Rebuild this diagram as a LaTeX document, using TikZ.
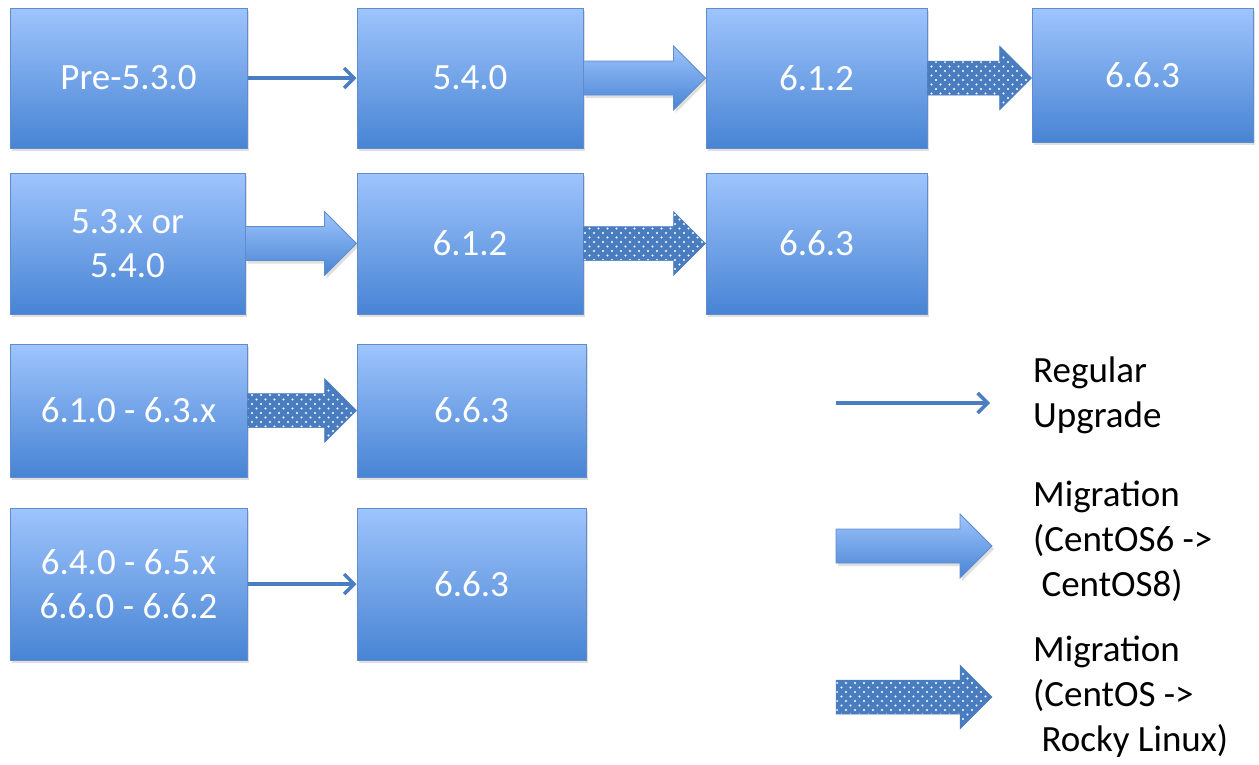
\documentclass[tikz,border=0pt]{standalone}
\usepackage{fontspec}
\setmainfont{Carlito}
\usetikzlibrary{arrows.meta,patterns.meta,shadows,calc}
\definecolor{boxtop}{RGB}{158,196,252}
\definecolor{boxbot}{RGB}{72,132,212}
\definecolor{boxline}{RGB}{96,140,206}
\definecolor{linec}{RGB}{74,126,193}
\definecolor{dotfill}{RGB}{74,124,192}
\newcommand\fatarr[3]{%
  \path[#1] let \p1=(#2), \p2=(#3) in
    (\x1,\y1+17pt) -- (\x2-32pt,\y1+17pt) -- (\x2-32pt,\y1+32pt) -- (\x2,\y1)
    -- (\x2-32pt,\y1-32pt) -- (\x2-32pt,\y1-17pt) -- (\x1,\y1-17pt) -- cycle;}
\begin{document}
\begin{tikzpicture}[x=1pt,y=-1pt,
  box/.style={draw=boxline, line width=1pt, top color=boxtop, bottom color=boxbot,
    text=white, font=\fontsize{37}{44}\selectfont, align=center, inner sep=0pt,
    drop shadow={shadow xshift=2pt,shadow yshift=-3pt,opacity=0.25}},
  thinarr/.style={draw=linec, line width=3.4pt, -{Straight Barb[length=10pt,width=20pt]}},
  fatplain/.style={draw=boxline, line width=0.8pt, top color=boxtop, bottom color=boxbot,
    drop shadow={shadow xshift=2pt,shadow yshift=-3pt,opacity=0.25}},
  fatdot/.style={draw=dotfill, line width=0.5pt,
    preaction={fill=dotfill},
    preaction={pattern={Dots[distance=9pt,radius=1.2pt]}, pattern color=white},
    pattern={Dots[distance=9pt,radius=1.2pt,xshift=4.5pt,yshift=4.5pt]}, pattern color=white},
  legend/.style={anchor=west, align=left, font=\fontsize{37}{45}\selectfont, inner sep=0pt}
]
\useasboundingbox (0,0) rectangle (1259,764);
% row 1
\node[box, minimum width=237pt, minimum height=140pt] (a1) at (128.5,78) {Pre-5.3.0};
\node[box, minimum width=226pt, minimum height=140pt] (b1) at (470,78) {5.4.0};
\node[box, minimum width=221pt, minimum height=140pt] (c1) at (816.5,78) {6.1.2};
\node[box, minimum width=221pt, minimum height=134pt] (d1) at (1142.5,75) {6.6.3};
% row 2
\node[box, minimum width=235pt, minimum height=141pt] (a2) at (127.5,243.5) {5.3.x or\\5.4.0};
\node[box, minimum width=226pt, minimum height=141pt] (b2) at (470,243.5) {6.1.2};
\node[box, minimum width=221pt, minimum height=141pt] (c2) at (816.5,243.5) {6.6.3};
% row 3
\node[box, minimum width=237pt, minimum height=133pt] (a3) at (128.5,410.5) {6.1.0 - 6.3.x};
\node[box, minimum width=229pt, minimum height=133pt] (b3) at (471.5,410.5) {6.6.3};
% row 4
\node[box, minimum width=237pt, minimum height=152pt] (a4) at (128.5,584) {6.4.0 - 6.5.x\\6.6.0 - 6.6.2};
\node[box, minimum width=229pt, minimum height=152pt] (b4) at (471.5,584) {6.6.3};
% connectors
\draw[thinarr] (a1.east) -- (b1.west);
\fatarr{fatplain}{b1.east}{c1.west}
\fatarr{fatdot}{c1.east}{c1.east -| d1.west}
\fatarr{fatplain}{a2.east}{b2.west}
\fatarr{fatdot}{b2.east}{c2.west}
\fatarr{fatdot}{a3.east}{b3.west}
\draw[thinarr] (a4.east) -- (b4.west);
% legend
\coordinate (l1a) at (836,403);
\coordinate (l1b) at (990,403);
\coordinate (l2a) at (836,546);
\coordinate (l2b) at (992,546);
\coordinate (l3a) at (836,697);
\coordinate (l3b) at (992,697);
\draw[thinarr] (l1a) -- (l1b);
\fatarr{fatplain}{l2a}{l2b}
\fatarr{fatdot}{l3a}{l3b}
\node[legend] (t1) at (1033,395) {Regular\\Upgrade};
\node[legend] (t2) at (1033,541) {Migration\\(CentOS6 ->\\\ CentOS8)};
\node[legend] (t3) at (1033,697) {Migration\\(CentOS ->\\\ Rocky Linux)};
\end{tikzpicture}
\end{document}
